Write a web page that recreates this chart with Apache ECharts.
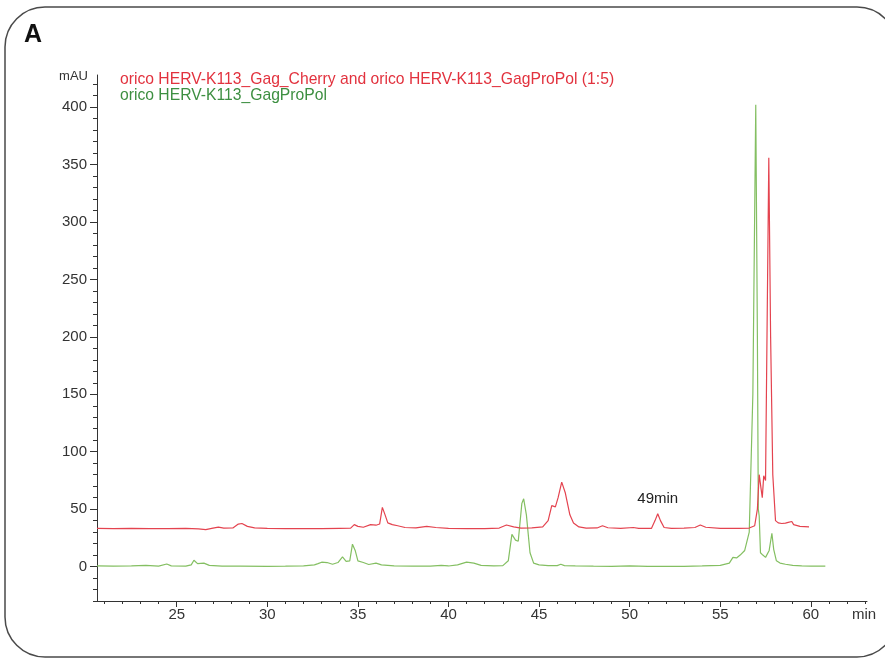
<!DOCTYPE html>
<html>
<head>
<meta charset="utf-8">
<script src="https://cdn.jsdelivr.net/npm/echarts@6/dist/echarts.min.js"></script>
<style>
html,body{margin:0;padding:0;background:#fff;}
#chart{width:885px;height:658px;}
</style>
</head>
<body>
<div id="chart"></div>
<script>
// ---- data (time in min, absorbance in mAU) ----
const seriesNames = [
  'orico HERV-K113_Gag_Cherry and orico HERV-K113_GagProPol (1:5)',
  'orico HERV-K113_GagProPol'
];
const cherryMixTrace = [
  [20.6,33.2],[21.5,33.0],[22.5,33.3],[23.5,33.0],[24.5,33.1],[25.5,33.2],[26.2,32.8],[26.6,32.2],
  [27.0,33.5],[27.3,34.3],[27.6,33.5],[28.1,33.6],[28.4,37.0],[28.6,37.5],[28.9,35.0],[29.3,33.6],
  [30.0,33.2],[31.0,33.0],[32.0,33.1],[33.0,33.0],[34.0,33.3],[34.6,33.5],[34.8,36.5],[35.0,35.0],
  [35.3,34.2],[35.7,36.5],[36.0,36.0],[36.2,37.0],[36.35,51.5],[36.5,45.0],[36.65,38.0],[36.9,36.5],
  [37.2,35.5],[37.6,34.0],[38.2,33.6],[38.8,35.0],[39.3,34.0],[40.0,33.2],[41.0,33.0],[42.0,33.1],
  [42.8,33.5],[43.2,36.2],[43.6,34.5],[44.0,33.4],[44.6,33.6],[45.2,34.5],[45.5,40.0],[45.7,53.0],
  [45.9,52.0],[46.05,60.0],[46.25,73.5],[46.45,64.0],[46.7,45.0],[46.9,38.0],[47.2,34.5],[47.6,33.5],
  [48.2,33.6],[48.5,35.5],[48.8,33.8],[49.5,33.3],[50.2,34.0],[50.5,33.3],[51.2,33.2],[51.4,40.0],
  [51.55,46.0],[51.7,40.0],[51.9,34.0],[52.3,33.2],[53.0,33.5],[53.6,34.0],[53.9,36.2],[54.2,34.2],
  [55.0,33.3],[56.0,33.2],[56.6,33.5],[56.9,35.5],[57.05,50.0],[57.15,80.0],[57.25,68.0],[57.32,60.0],
  [57.4,79.0],[57.5,75.0],[57.58,200.0],[57.68,356.0],[57.78,200.0],[57.9,80.0],[58.05,40.0],[58.2,38.0],
  [58.4,37.5],[58.6,37.8],[58.75,38.5],[58.85,37.2],[58.95,39.2],[59.05,36.5],[59.4,35.0],[59.9,34.5]
];
const gagProPolTrace = [
  [20.6,0.5],[21.5,0.3],[22.5,0.5],[23.3,1.0],[24.0,0.4],[24.45,2.2],[24.7,0.6],[25.5,0.3],
  [25.8,1.5],[25.95,5.5],[26.15,2.5],[26.5,3.0],[26.8,1.0],[27.5,0.3],[28.5,0.3],[30.0,0.2],
  [31.0,0.3],[32.0,0.5],[32.6,1.5],[32.8,2.5],[33.0,3.8],[33.3,3.5],[33.6,2.0],[33.9,3.5],
  [34.15,8.5],[34.35,4.5],[34.55,5.0],[34.7,19.5],[34.85,14.0],[35.0,5.0],[35.3,3.5],[35.6,1.8],
  [36.0,3.0],[36.3,1.5],[37.0,0.5],[38.0,0.3],[39.0,0.3],[39.6,1.0],[40.0,0.5],[40.5,1.5],
  [41.0,3.8],[41.4,3.0],[41.8,1.0],[42.5,0.5],[43.0,0.8],[43.3,5.0],[43.5,28.0],[43.7,23.0],
  [43.85,22.0],[44.05,55.0],[44.15,59.0],[44.3,45.0],[44.5,12.0],[44.7,3.0],[45.0,1.5],[45.5,0.8],
  [46.0,0.8],[46.2,2.0],[46.4,0.8],[47.0,0.5],[48.0,0.3],[49.0,0.2],[50.0,0.5],[51.0,0.2],
  [52.0,0.2],[53.0,0.2],[54.0,0.5],[55.0,1.0],[55.5,3.0],[55.7,8.0],[55.9,7.5],[56.1,10.0],
  [56.35,14.0],[56.6,30.0],[56.8,150.0],[56.96,402.0],[57.05,200.0],[57.1,50.0],[57.15,44.0],[57.22,12.0],
  [57.35,10.0],[57.5,8.0],[57.7,14.0],[57.85,29.0],[57.95,15.0],[58.1,5.0],[58.2,6.0],[58.3,3.0],
  [58.6,2.0],[59.0,1.0],[59.5,0.5],[60.0,0.3],[60.8,0.3]
];
const xTickLabels = [25, 30, 35, 40, 45, 50, 55, 60];
const xMinorTicks = [21,22,23,24,25,26,27,28,29,30,31,32,33,34,35,36,37,38,39,40,41,42,43,44,45,46,47,48,49,50,51,52,53,54,55,56,57,58,59,60,61,62,63];
const yTickLabels = [0, 50, 100, 150, 200, 250, 300, 350, 400];
const yMinorTicks = [-30,-20,-10,0,10,20,30,40,50,60,70,80,90,100,110,120,130,140,150,160,170,180,190,200,210,220,230,240,250,260,270,280,290,300,310,320,330,340,350,360,370,380,390,400,410,420];
const peakAnnotation = { text: '49min', time: 51.55, value: 59 };
const axisUnits = { x: 'min', y: 'mAU' };
const panelLabel = 'A';

// ---- chart ----
const FONT = '"Liberation Sans", Arial, sans-serif';
const chart = echarts.init(document.getElementById('chart'), null, { renderer: 'canvas' });
const X_MIN = 20.6, X_MAX = 63.1, Y_MIN = -30, Y_MAX = 428;

const baseX = { type: 'value', min: X_MIN, max: X_MAX, splitLine: { show: false } };
const baseY = { type: 'value', min: Y_MIN, max: Y_MAX, splitLine: { show: false } };

chart.setOption({
  animation: false,
  backgroundColor: '#fff',
  grid: { left: 97, right: 18, top: 75, bottom: 57, containLabel: false },
  xAxis: [
    Object.assign({}, baseX, {
      position: 'bottom',
      axisLine: { show: true, onZero: false, lineStyle: { color: '#333', width: 1 } },
      axisTick: { show: true, inside: false, length: 6, customValues: xTickLabels, lineStyle: { color: '#333' } },
      axisLabel: { show: true, customValues: xTickLabels, margin: 6, color: '#333', fontSize: 15, fontFamily: FONT }
    }),
    Object.assign({}, baseX, {
      position: 'bottom',
      axisLine: { show: false, onZero: false },
      axisTick: { show: true, inside: false, length: 3, customValues: xMinorTicks, lineStyle: { color: '#333' } },
      axisLabel: { show: false }
    })
  ],
  yAxis: [
    Object.assign({}, baseY, {
      position: 'left',
      axisLine: { show: true, onZero: false, lineStyle: { color: '#333', width: 1 } },
      axisTick: { show: true, inside: false, length: 7, customValues: yTickLabels, lineStyle: { color: '#333' } },
      axisLabel: { show: true, customValues: yTickLabels, margin: 10, color: '#333', fontSize: 15, fontFamily: FONT }
    }),
    Object.assign({}, baseY, {
      position: 'left',
      axisLine: { show: false, onZero: false },
      axisTick: { show: true, inside: false, length: 4, customValues: yMinorTicks, lineStyle: { color: '#333' } },
      axisLabel: { show: false }
    })
  ],
  series: [
    {
      name: seriesNames[0], type: 'line', xAxisIndex: 0, yAxisIndex: 0,
      data: cherryMixTrace, showSymbol: false, smooth: false,
      lineStyle: { color: '#e4434f', width: 1.2 }, itemStyle: { color: '#e4434f' },
      markPoint: {
        symbol: 'rect', symbolSize: 1, itemStyle: { color: 'rgba(0,0,0,0)' },
        label: { show: true, position: 'inside', formatter: peakAnnotation.text, color: '#222', fontSize: 15, fontFamily: FONT },
        data: [{ coord: [peakAnnotation.time, peakAnnotation.value] }]
      }
    },
    {
      name: seriesNames[1], type: 'line', xAxisIndex: 0, yAxisIndex: 0,
      data: gagProPolTrace, showSymbol: false, smooth: false, z: 1,
      lineStyle: { color: '#84bf62', width: 1.2 }, itemStyle: { color: '#84bf62' }
    }
  ],
  graphic: [
    { type: 'rect', shape: { x: 5, y: 7, width: 892, height: 650, r: 40 }, style: { fill: 'none', stroke: '#4a4a4a', lineWidth: 1.5 }, z: -10 },
    { type: 'text', left: 24, top: 23, style: { text: panelLabel, font: 'bold 25px ' + FONT, fill: '#111' } },
    { type: 'text', x: 88, y: 76, style: { text: axisUnits.y, font: '13px ' + FONT, fill: '#333', textAlign: 'right', textVerticalAlign: 'middle' } },
    { type: 'text', x: 864, y: 615, style: { text: axisUnits.x, font: '15px ' + FONT, fill: '#333', textAlign: 'center', textVerticalAlign: 'middle' } },
    { type: 'text', x: 120, y: 80, style: { text: seriesNames[0], font: '15.7px ' + FONT, fill: '#e2323e', textAlign: 'left', textVerticalAlign: 'middle' } },
    { type: 'text', x: 120, y: 96, style: { text: seriesNames[1], font: '15.7px ' + FONT, fill: '#3d8f41', textAlign: 'left', textVerticalAlign: 'middle' } }
  ]
});
</script>
</body>
</html>
